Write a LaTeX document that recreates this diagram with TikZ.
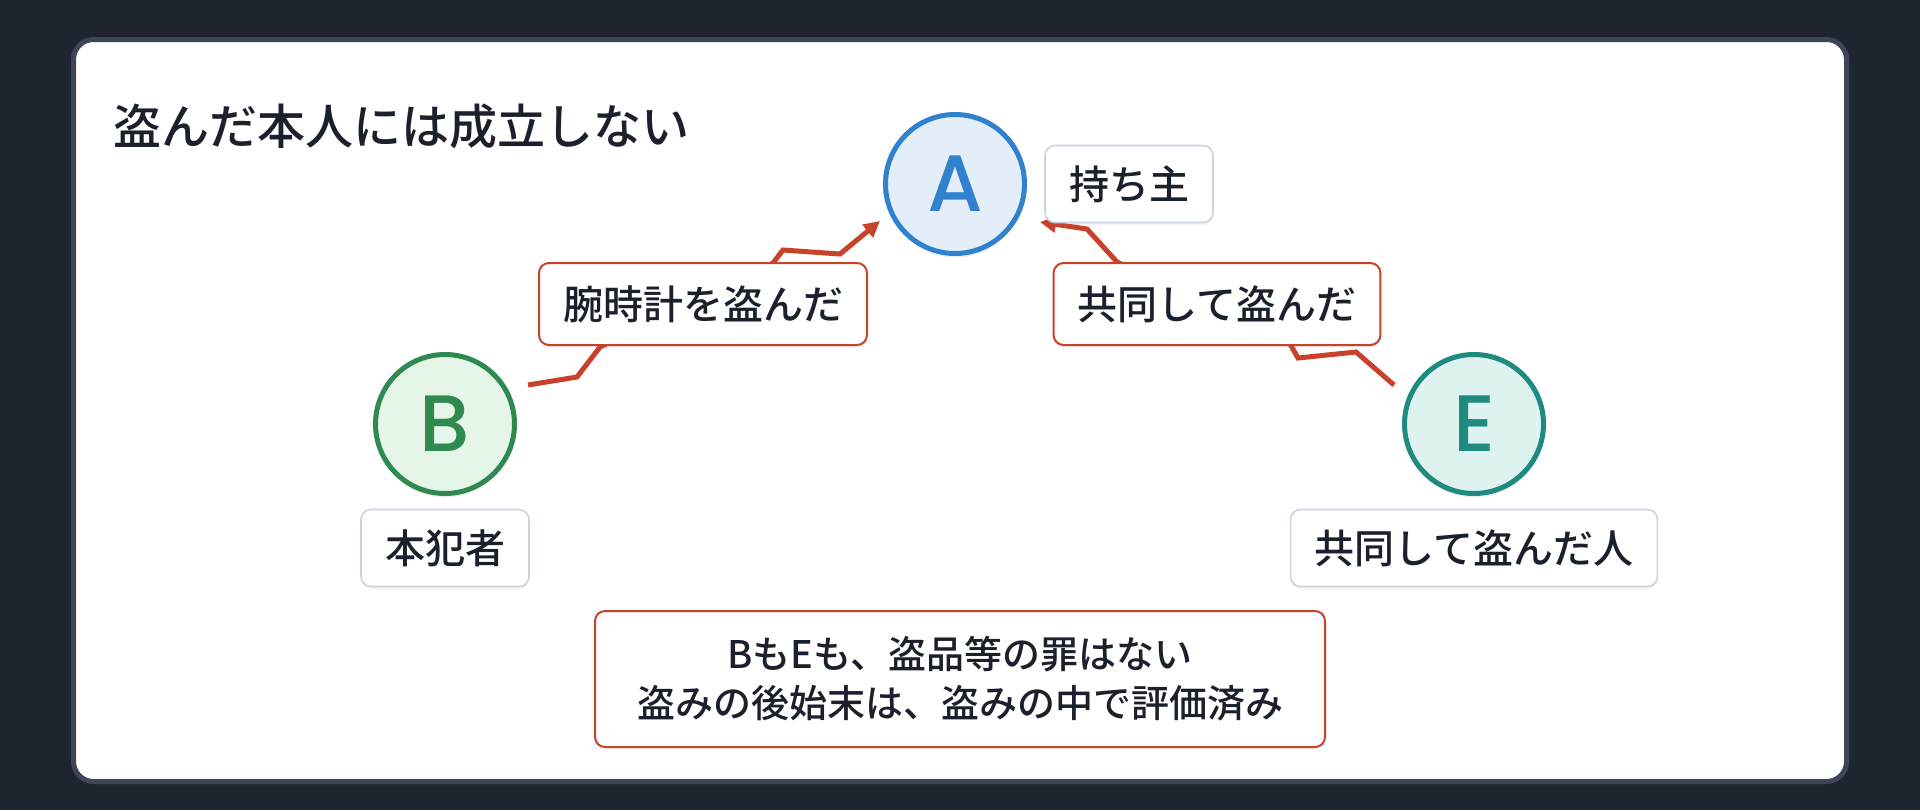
\documentclass[tikz,border=0pt]{standalone}
\usepackage{fontspec}
\setmainfont{Noto Sans CJK JP}[UprightFont=* Medium]
\newfontfamily\letterfont{Poppins}[UprightFont=* Medium]
\usepackage{xcolor}
\usetikzlibrary{arrows.meta, calc, shadows}

\definecolor{bgdark}{HTML}{1E252F}
\definecolor{cardline}{HTML}{3C4656}
\definecolor{ink}{HTML}{1A202C}
\definecolor{wirered}{HTML}{C8412A}
\definecolor{tagline}{HTML}{CBD5E0}
\definecolor{ownerblue}{HTML}{3182CE}
\definecolor{ownerfill}{HTML}{E3EEF9}
\definecolor{thiefgreen}{HTML}{2F8A50}
\definecolor{thieffill}{HTML}{E5F5E8}
\definecolor{mateteal}{HTML}{1F8A80}
\definecolor{matefill}{HTML}{DEF2EF}

\begin{document}
\begin{tikzpicture}[x=0.5pt, y=-0.5pt,
        person/.style={circle, line width=2.5pt, minimum size=69.5pt, inner sep=0pt,
            font=\letterfont\fontsize{40}{40}\selectfont,
            drop shadow={opacity=0.12, shadow xshift=0pt, shadow yshift=-2pt}},
        tag/.style={draw=tagline, line width=0.8pt, fill=white, rounded corners=5pt,
            text=ink, font=\fontsize{20}{20}\selectfont, inner xsep=12pt, minimum height=38.5pt,
            drop shadow={opacity=0.08, shadow xshift=0pt, shadow yshift=-1.5pt}},
        act/.style={tag, draw=wirered, line width=1pt, minimum height=41pt},
        wire/.style={wirered, line width=2.5pt, -{Triangle[length=8pt, width=8pt]}}]
        \useasboundingbox [fill=bgdark] (0, 0) rectangle (1920, 810);
        \draw [fill=white, draw=cardline, line width=2.5pt, rounded corners=10pt] (73.5, 39.5) rectangle (1846.5, 781.5);

        \node [anchor=west, inner sep=0pt, text=ink, font=\fontsize{24}{24}\selectfont] (title) at (113, 126) {盗んだ本人には成立しない};

        % people
        \node [person, draw=ownerblue, fill=ownerfill, text=ownerblue] (A) at (955, 184) {A};
        \node [person, draw=thiefgreen, fill=thieffill, text=thiefgreen] (B) at (445, 424) {B};
        \node [person, draw=mateteal, fill=matefill, text=mateteal] (E) at (1474, 424) {E};

        % arrows go under the labels
        \draw [wire] ($(B)+(83, -39)$) -- (577, 377) -- (600, 347) -- (773, 263) -- (783, 250) -- (840, 254) -- ($(A)+(-75, 37)$);
        \draw [wire] ($(E)+(-80, -39)$) -- (1356, 352) -- (1298, 358) -- (1290, 344) -- (1117, 262) -- (1087, 229) -- ($(A)+(85, 38)$);

        \node [act] (took) at (703, 304) {腕時計を盗んだ};
        \node [act] (jointly) at (1217, 304) {共同して盗んだ};

        \node [tag] (owner) at (1129, 184) {持ち主};
        \node [tag] (principal) at (445, 548) {本犯者};
        \node [tag] (partner) at (1474, 548) {共同して盗んだ人};

        \node [act, align=center, minimum width=365pt, minimum height=68pt,
            font=\fontsize{19}{24.5}\selectfont] (note) at (960, 679)
            {BもEも、盗品等の罪はない\\盗みの後始末は、盗みの中で評価済み};
    \end{tikzpicture}
\end{document}
